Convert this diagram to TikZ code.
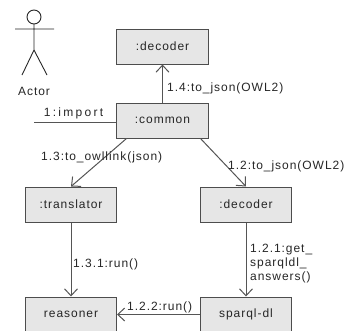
\documentclass[tikz,border=0pt]{standalone}
\usepackage{fontspec}
\setmainfont{Liberation Sans}[LetterSpace=8]
\newfontfamily\widefont{Liberation Sans}[LetterSpace=19]
\usetikzlibrary{arrows.meta}
\definecolor{boxfill}{HTML}{E6E6E6}
\definecolor{boxline}{HTML}{4D4D4D}
\definecolor{conn}{HTML}{555555}
\definecolor{txt}{HTML}{262626}
\begin{document}
\begin{tikzpicture}[x=1bp,y=-1bp,
  obj/.style={draw=boxline,fill=boxfill,line width=1bp,minimum width=91bp,
    minimum height=35bp,inner sep=0pt,text=txt,font=\fontsize{12bp}{14bp}\selectfont},
  msg/.style={draw=conn,line width=1bp,-{Straight Barb[length=7bp,width=13bp]}},
  lbl/.style={text=txt,inner sep=0pt,anchor=west,font=\fontsize{12bp}{14bp}\selectfont},
  actorline/.style={draw=txt,line width=0.9bp}]
\useasboundingbox (0,0) rectangle (347,331);
% objects
\node[obj] (dec1) at (162.5,46.5) {:decoder};
\node[obj] (common) at (162.5,120.5) {:common};
\node[obj] (trans) at (71,204.5) {:translator};
\node[obj] (dec2) at (246,204.5) {:decoder};
\node[obj] (reas) at (71,314.5) {reasoner};
\node[obj] (sparql) at (246,314.5) {sparql-dl};
% actor
\draw[actorline] (34,17) circle (7);
\draw[actorline] (34,24) -- (34,50) -- (22,75) (34,50) -- (47,75) (15,29) -- (54,29);
\node[lbl,anchor=center] (actor) at (34,91) {Actor};
% import
\coordinate (imp) at (34,122);
\draw[draw=conn,line width=1bp] (imp) -- (imp -| common.west);
\node[lbl,anchor=center,font=\fontsize{12bp}{14bp}\widefont] (limp) at (73.5,113) {1:import};
% messages
\draw[msg] (common) -- (dec1);
\draw[msg] ([xshift=10bp]common.south west) -- (trans.north);
\draw[msg] ([xshift=-8bp]common.south east) -- (dec2.north);
\draw[msg] (trans) -- (reas);
\draw[msg] (dec2) -- (sparql);
\draw[msg] (sparql) -- (reas);
% labels
\node[lbl] (l14) at (167,88) {1.4:to\_json(OWL2)};
\node[lbl] (l13) at (41,157) {1.3:to\_owllink(json)};
\node[lbl] (l12) at (228,166) {1.2:to\_json(OWL2)};
\node[lbl] (l131) at (73,264) {1.3.1:run()};
\node[lbl,align=left] (l121) at (250,264) {1.2.1:get\_\\sparqldl\_\\answers()};
\node[lbl] (l122) at (127,307) {1.2.2:run()};
\end{tikzpicture}
\end{document}
